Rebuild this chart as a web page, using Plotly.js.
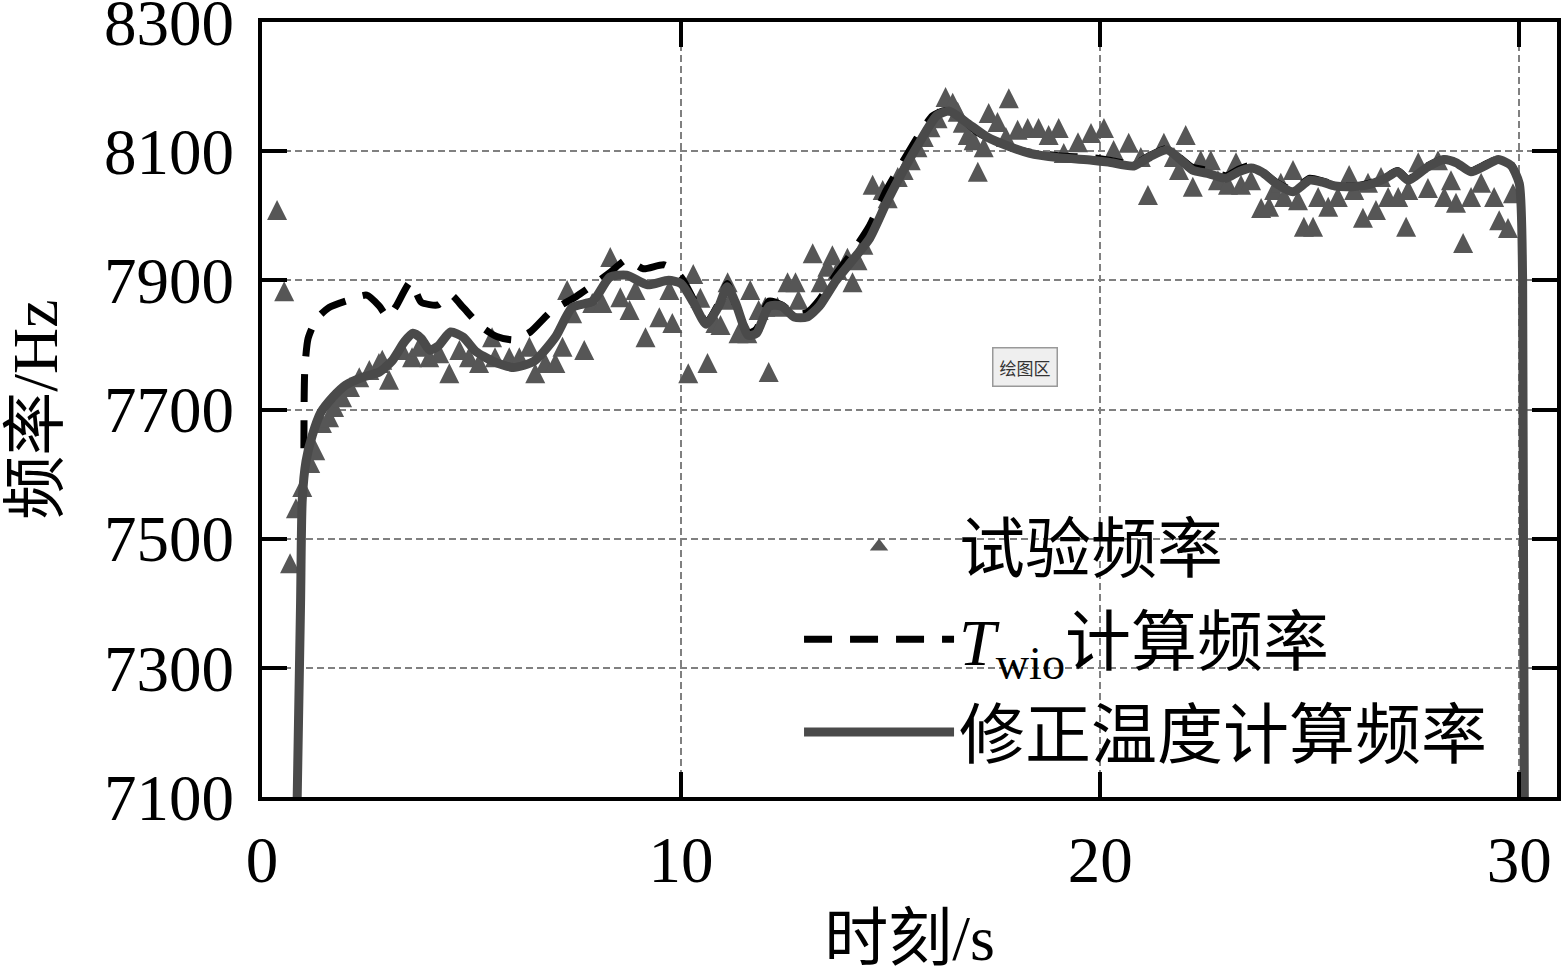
<!DOCTYPE html>
<html><head><meta charset="utf-8">
<script src="https://cdn.plot.ly/plotly-3.0.1.min.js"></script>
<style>html,body{margin:0;padding:0;background:#fff;} #chart{width:1562px;height:974px;}</style>
</head><body><div id="chart"></div>
<script>
// 试验频率 (measured) — time (s) and frequency (Hz)
const expT = [0.36,0.53,0.67,0.81,0.96,1.15,1.27,1.43,1.60,1.72,
1.91,2.10,2.32,2.56,2.79,2.87,3.03,3.34,3.58,3.75,
3.99,4.23,4.47,4.71,4.94,5.18,5.49,5.56,5.90,6.14,
6.38,6.52,6.76,7.00,7.17,7.28,7.40,7.69,7.88,8.12,
8.31,8.55,8.77,8.91,9.15,9.48,9.72,9.79,10.17,10.29,
10.46,10.63,10.82,10.94,11.11,11.18,11.37,11.58,11.65,11.85,
12.01,12.09,12.30,12.54,12.73,12.80,13.14,13.33,13.49,13.61,
13.73,13.97,14.09,14.21,14.35,14.57,14.81,14.93,15.17,15.31,
15.48,15.64,15.79,15.95,16.12,16.31,16.48,16.60,16.72,16.84,
16.98,17.08,17.22,17.34,17.55,17.75,17.82,18.03,18.27,18.53,
18.77,19.01,19.13,19.47,19.78,20.09,20.32,20.68,20.97,21.14,
21.52,21.76,21.88,22.04,22.21,22.40,22.64,22.81,23.05,23.24,
23.36,23.60,23.84,24.03,24.15,24.31,24.39,24.60,24.72,24.86,
25.08,25.20,25.44,25.67,25.94,26.06,26.27,26.39,26.58,26.70,
26.87,27.11,27.30,27.35,27.59,27.82,28.06,28.21,28.37,28.49,
28.66,28.85,29.09,29.40,29.52,29.73,29.85];
const expF = [8009,7883,7462,7547,7580,7617,7637,7679,7688,7704,
7719,7735,7750,7761,7772,7777,7746,7792,7781,7797,
7781,7787,7756,7792,7781,7772,7812,7781,7781,7781,
7797,7756,7772,7772,7797,7885,7849,7792,7865,7865,
7936,7874,7854,7885,7812,7843,7885,7834,7756,7910,
7873,7772,7834,7831,7897,7870,7818,7818,7885,7854,
7859,7758,7859,7897,7897,7870,7942,7897,7921,7939,
7916,7935,7897,7931,7955,8048,8040,8027,8060,8071,
8086,8106,8122,8137,8151,8184,8175,8161,8144,8125,
8117,8068,8106,8159,8145,8122,8182,8133,8136,8136,
8125,8136,8097,8114,8128,8136,8102,8113,8091,8032,
8113,8091,8071,8125,8045,8086,8086,8055,8048,8083,
8048,8055,8012,8014,8040,8051,8029,8071,8024,7983,
7983,8029,8014,8029,8063,8040,7997,8051,8009,8060,
8029,8029,7983,8040,8083,8043,8086,8029,8055,8020,
7958,8029,8051,8029,7993,7981,8035];

// T_wio 计算频率 (dashed)
const dashT = [1.0,1.02,1.1,1.3,1.6,2.0,2.5,2.8,3.0,3.2,
3.55,3.8,4.2,4.5,4.8,5.2,5.6,6.0,6.4,6.9,
7.5,7.9,8.3,8.7,9.1,9.6,10.0,10.3,10.6,10.9,
11.1,11.3,11.6,11.8,12.1,12.4,12.7,13.0,13.3,13.7,
14.1,14.5,14.9,15.3,15.7,16.0,16.3,16.7,17.1,17.6,
18.2,19.0,19.8,20.3,20.8,21.2,21.6,21.9,22.2,22.6,
23.0,23.3,23.6,23.85,24.2,24.6,25.0,25.3,25.6,26.0,
26.4,26.8,27.1,27.35,27.8,28.2,28.5,28.85,29.2,29.5,
29.8,30.0];
const dashF = [7640,7760,7810,7840,7858,7868,7877,7860,7843,7860,
7898,7866,7862,7878,7858,7830,7813,7808,7820,7852,
7875,7893,7912,7932,7918,7924,7905,7870,7835,7865,
7895,7862,7818,7825,7868,7862,7848,7850,7870,7910,
7945,7985,8040,8085,8128,8155,8163,8150,8128,8112,
8100,8093,8090,8085,8080,8094,8104,8090,8075,8070,
8062,8072,8078,8070,8052,8040,8058,8054,8048,8046,
8050,8060,8070,8057,8077,8088,8083,8070,8080,8088,
8080,8052];

// 修正温度计算频率 (solid)
const solT = [0.84,0.92,0.96,1.05,1.2,1.4,1.7,2.0,2.4,2.8,
3.1,3.4,3.6,3.8,4.0,4.2,4.5,4.8,5.1,5.5,
6.0,6.5,7.0,7.4,7.9,8.3,8.7,9.2,9.7,10.0,
10.3,10.6,10.9,11.1,11.3,11.6,11.8,12.1,12.4,12.7,
13.0,13.3,13.7,14.1,14.5,14.9,15.3,15.7,16.1,16.4,
16.8,17.3,17.8,18.3,19.0,19.8,20.2,20.8,21.2,21.6,
21.9,22.2,22.6,23.0,23.3,23.6,23.85,24.2,24.6,25.0,
25.3,25.6,26.0,26.4,26.8,27.1,27.35,27.8,28.2,28.5,
28.85,29.2,29.5,29.8,30.0,30.08,30.12];
const solF = [7100,7400,7560,7620,7660,7695,7720,7738,7750,7758,
7775,7805,7818,7810,7792,7798,7820,7812,7790,7775,
7765,7775,7812,7858,7868,7905,7908,7893,7900,7895,
7865,7832,7860,7890,7865,7815,7818,7860,7860,7843,
7843,7860,7900,7932,7965,8020,8070,8115,8155,8162,
8145,8122,8108,8097,8090,8086,8083,8077,8092,8102,
8088,8071,8065,8058,8068,8074,8068,8050,8037,8055,
8052,8046,8045,8048,8058,8068,8055,8075,8087,8082,
8068,8078,8087,8078,8050,7900,7100];

const xTicks = [0,10,20,30];
const yTicks = [7100,7300,7500,7700,7900,8100,8300];
const names = ['试验频率','<i>T</i><sub>wio</sub>计算频率','修正温度计算频率'];
const xTitle = '时刻/s';
const yTitle = '频率/Hz';

const FONT = "'Liberation Serif', 'Times New Roman', 'Noto Sans CJK SC', serif";
const MS = 20;
const MCOLOR = '#565656';

const traces = [
  // measured points: upright triangle centred on each point
  {x: expT, y: expF, mode:'markers', type:'scatter', name:names[0], legendgroup:'g1', showlegend:false,
   marker:{symbol:'arrow-down', angle:180, standoff:MS/2, size:MS, color:MCOLOR}},
  // legend swatch for the measured points
  {x:[null], y:[null], mode:'markers', type:'scatter', name:names[0], legendrank:1, legendgroup:'g1',
   marker:{symbol:'triangle-up', size:17, color:MCOLOR}},
  {x: dashT, y: dashF, mode:'lines', type:'scatter', name:names[1], legendrank:2, legendgroup:'g2',
   line:{color:'#000', width:7, dash:'28px,18px', shape:'spline', smoothing:0.6}},
  {x: solT, y: solF, mode:'lines', type:'scatter', name:names[2], legendrank:3, legendgroup:'g3',
   line:{color:'#4a4a4a', width:9, shape:'spline', smoothing:0.6}}
];

const axisCommon = {
  ticks:'inside', ticklen:25, tickwidth:4, tickcolor:'#000',
  showline:true, linewidth:4, linecolor:'#000', mirror:'ticks',
  showgrid:true, gridcolor:'#808080', gridwidth:2, griddash:'7px,4px',
  zeroline:false, ticklabeloverflow:'allow',
  tickfont:{size:65, family:FONT, color:'#000'}
};

const layout = {
  width:1562, height:974,
  margin:{l:262, r:5, t:22, b:177},
  paper_bgcolor:'#fff', plot_bgcolor:'#fff',
  font:{family:FONT, color:'#000', size:60},
  showlegend:true,
  legend:{x:0.4147, y:0.387, xanchor:'left', yanchor:'top', bgcolor:'rgba(0,0,0,0)', borderwidth:0,
          font:{size:66, family:FONT, color:'#000'}, itemwidth:150, traceorder:'grouped',
          tracegroupgap:4},
  xaxis: Object.assign({}, axisCommon, {
    range:[0,30.9], tickmode:'array', tickvals:xTicks, ticklabelstandoff:3,
    title:{text:xTitle, font:{size:64, family:FONT}, standoff:50}
  }),
  yaxis: Object.assign({}, axisCommon, {
    range:[7100,8300], tickmode:'array', tickvals:yTicks, ticklabelstandoff:11,
    title:{text:yTitle, font:{size:64, family:FONT}, standoff:43}
  }),
  shapes:[{type:'rect', xref:'paper', yref:'paper', x0:0.396, x1:0.962, y0:0.028, y1:0.377,
    fillcolor:'#fff', line:{width:0}, layer:'between'}],
  annotations:[{text:'绘图区', xref:'paper', yref:'paper', x:0.589, y:0.555,
    showarrow:false, font:{family:"'Noto Sans CJK SC', sans-serif", size:17, color:'#333'},
    bgcolor:'#efefef', bordercolor:'#999', borderwidth:1.5, borderpad:6}]
};

Plotly.newPlot('chart', traces, layout, {displayModeBar:false, staticPlot:true});
</script></body></html>
